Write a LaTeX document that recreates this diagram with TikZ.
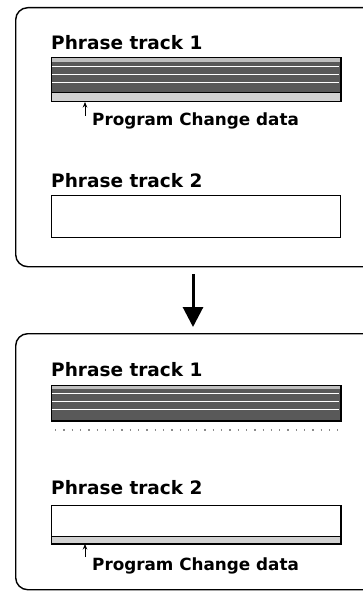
\documentclass[tikz,border=0pt]{standalone}
\usepackage{fontspec}
\setmainfont{DejaVu Sans}
\usetikzlibrary{arrows.meta}
\begin{document}
\begin{tikzpicture}[x=1pt,y=-1pt,
  frame/.style={draw=black,line width=1.4pt,rounded corners=12pt,anchor=north west,inner sep=0pt,minimum width=380pt},
  title/.style={font=\bfseries\fontsize{18.5}{20}\selectfont,anchor=base west,inner sep=0pt},
  pclabel/.style={font=\bfseries\fontsize{16.8}{19}\selectfont,anchor=base west,inner sep=0pt},
  track/.style={draw=black,line width=1pt,minimum width=289pt,anchor=north west,inner sep=0pt},
  darkbar/.style={track,fill=black!65},
  sep/.style={white,line width=0.8pt},
  strip/.style={fill=black!18},
  dots/.style={black!45,line width=1.3pt,dash pattern=on 1.3pt off 7pt},
  smallarrow/.style={-{Stealth[length=5.5pt,width=4.5pt]},line width=0.8pt},
  bigarrow/.style={line width=3pt,-{Triangle[width=20pt,length=20pt]}}
]
\useasboundingbox (0,0) rectangle (363,591);
\clip (0,0) rectangle (363,591);

% ---------- upper panel ----------
\node[frame,minimum height=259pt] (box1) at (15,7) {};
\node[title] (t1a) at (51,50) {Phrase track 1};
\node[darkbar,minimum height=43pt] (bar1) at (51,58) {};
\fill[black!25] (51,58) rectangle (340,62);
\fill[strip] (51,93) rectangle (340,101);
\draw[sep] (52,66) -- (339,66);
\draw[sep] (52,74) -- (339,74);
\draw[sep] (52,82) -- (339,82);
\draw[line width=1pt] (51,93) -- (340,93);
\draw[line width=1pt] (bar1.north west) rectangle (bar1.south east);
\coordinate (pa) at (85,116);
\draw[smallarrow] (pa) -- (pa |- bar1.south);
\node[pclabel] (pc1) at (92,125) {Program Change data};
\node[title] (t2a) at (51,187) {Phrase track 2};
\node[track,minimum height=42pt] (bar2) at (51,195) {};

% ---------- lower panel ----------
\node[frame,minimum height=256pt] (box2) at (15,333) {};
\node[title] (t1b) at (51,376) {Phrase track 1};
\node[darkbar,minimum height=35pt] (bar3) at (51,385) {};
\fill[black!25] (51,385) rectangle (340,389);
\draw[sep] (52,393) -- (339,393);
\draw[sep] (52,401) -- (339,401);
\draw[sep] (52,409) -- (339,409);
\draw[line width=1pt] (bar3.north west) rectangle (bar3.south east);
\draw[dots] (55,430) -- (338,430);
\node[title] (t2b) at (51,494) {Phrase track 2};
\node[track,minimum height=38pt] (bar4) at (51,505) {};
\fill[strip] (51,536) rectangle (340,543);
\draw[line width=1pt] (51,536) -- (340,536);
\draw[line width=1pt] (bar4.north west) rectangle (bar4.south east);
\coordinate (pb) at (85,557);
\draw[smallarrow] (pb) -- (pb |- bar4.south);
\node[pclabel] (pc2) at (92,570) {Program Change data};

% ---------- arrow ----------
\coordinate (ax) at (193,0);
\draw[bigarrow,shorten <=7pt,shorten >=6pt] (box1.south -| ax) -- (box2.north -| ax);
\end{tikzpicture}
\end{document}
